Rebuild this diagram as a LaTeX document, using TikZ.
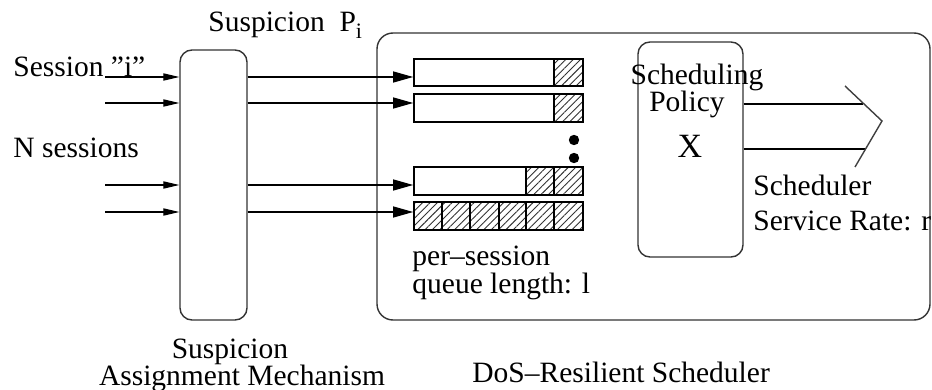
\documentclass[tikz,border=0pt]{standalone}
\usepackage{fontspec}
\setmainfont{Liberation Serif}[Ligatures=ResetAll]
\usetikzlibrary{arrows.meta,patterns.meta}
\tikzset{
  px/.style={x=0.5pt,y=-0.5pt},
  rbox/.style={draw=black!80,line width=0.7pt,rounded corners=6pt,minimum width=#1,inner sep=0pt},
  qbox/.style={draw=black,line width=0.8pt},
  hatch/.style={pattern={Lines[angle=45,distance=2.6pt,line width=0.45pt]},pattern color=black!80},
  inarr/.style={line width=0.6pt,-{Triangle[length=8pt,width=3.6pt]}},
  qarr/.style={line width=0.6pt,-{Triangle[length=10pt,width=5.5pt]}},
  wire/.style={line width=0.6pt},
  lbl/.style={inner sep=0pt,font=\fontsize{14.75}{17}\selectfont},
}
\begin{document}
\begin{tikzpicture}[px]
\useasboundingbox (0,0) rectangle (932,390);
% big scheduler box
\node[rbox=276.5pt,minimum height=143.5pt,rounded corners=8pt] (big) at (653.5,176.5) {};
% suspicion assignment box
\node[rbox=33.5pt,minimum height=135pt] (sam) at (213.5,185) {};
% policy box
\node[rbox=52.5pt,minimum height=107.5pt] (pol) at (690.5,149.5) {};

% queues
\fill[hatch] (554,59) rectangle (583,86);
\fill[hatch] (554,94) rectangle (583,122);
\fill[hatch] (526,167) rectangle (583,195);
\fill[hatch] (414,202) rectangle (583,230);
\node[qbox,inner sep=0pt,minimum width=84.5pt,minimum height=13.5pt] (q1) at (498.5,72.5) {};
\node[qbox,inner sep=0pt,minimum width=84.5pt,minimum height=14pt] (q2) at (498.5,108) {};
\node[qbox,inner sep=0pt,minimum width=84.5pt,minimum height=14pt] (q3) at (498.5,181) {};
\node[qbox,inner sep=0pt,minimum width=84.5pt,minimum height=14pt] (q4) at (498.5,216) {};
\draw[qbox] (554,59) -- (554,86);
\draw[qbox] (554,94) -- (554,122);
\draw[qbox] (526,167) -- (526,195) (554,167) -- (554,195);
\foreach \x in {442,470,499,526,554} \draw[qbox] (\x,202) -- (\x,230);
% dots
\fill (574,140) circle (2.6pt);
\fill (574,158) circle (2.6pt);

% input arrows
\foreach \n/\y in {1/77,2/103,3/185,4/212}{
  \coordinate (in\n) at (105,\y);
  \draw[inarr] (in\n) -- (sam.west |- in\n);
}
% to queues
\draw[qarr] (sam.east |- in1) -- (q1.west |- in1);
\draw[qarr] (sam.east |- in2) -- (q2.west |- in2);
\draw[qarr] (sam.east |- in3) -- (q3.west |- in3);
\draw[qarr] (sam.east |- in4) -- (q4.west |- in4);

% output
\coordinate (o1) at (863,104);
\coordinate (o2) at (865,149);
\coordinate (ct) at (845,86);
\coordinate (ctip) at (882,121);
\coordinate (cb) at (855,167);
\draw[wire] (pol.east |- o1) -- (o1);
\draw[wire] (pol.east |- o2) -- (o2);
\draw[line width=0.7pt,black!75] (ct) -- (ctip) -- (cb);

% labels
\node[lbl,anchor=base west] (tsp) at (208,32) {Suspicion\ \ P\lower0.45ex\hbox{\fontsize{11}{11}\selectfont i}};
\node[lbl,anchor=base west] (tsi) at (13,77) {Session \char34 i\char34};
\node[lbl,anchor=base west] (tns) at (13,157) {N sessions};
\node[lbl,anchor=base] (tsc) at (697,85) {Scheduling};
\node[lbl,anchor=base] (tpo) at (687,112) {Policy};
\node[lbl,anchor=base] (tx) at (690,158) {\fontsize{17}{17}\selectfont X};
\node[lbl,anchor=base west] (tsr) at (753,195) {Scheduler};
\node[lbl,anchor=base west] (tsr2) at (753,230) {Service Rate: r};
\node[lbl,anchor=base west] (tps) at (412,265) {per–session};
\node[lbl,anchor=base west] (tql) at (412,293) {queue length: l};
\node[lbl,anchor=base] (tsa) at (230,358) {Suspicion};
\node[lbl,anchor=base] (tam) at (242,385) {Assignment Mechanism};
\node[lbl,anchor=base west] (tdos) at (472,382) {DoS–Resilient Scheduler};
\end{tikzpicture}
\end{document}
